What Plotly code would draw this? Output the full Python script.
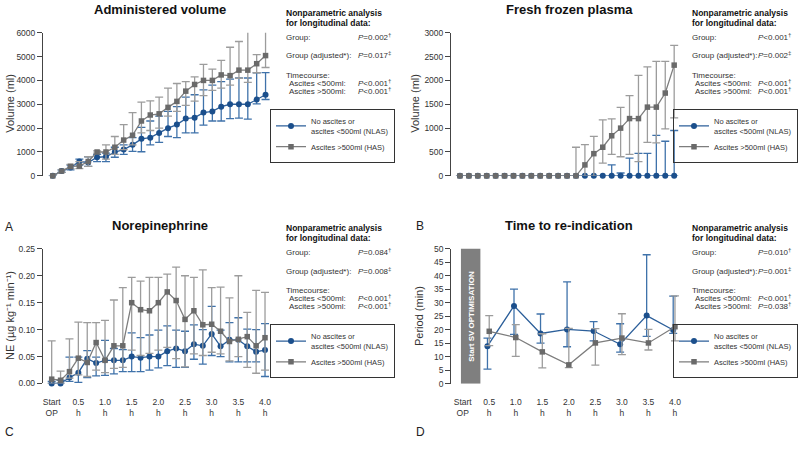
import plotly.graph_objects as go

W, H = 800, 455
FONT = "Liberation Sans, Arial, sans-serif"

# ---------------- data ----------------
TIME_MIN = [0, 10, 20, 30, 40, 50, 60, 70, 80, 90, 100, 110, 120,
            130, 140, 150, 160, 170, 180, 190, 200, 210, 220, 230, 240]
TIME_D = [30, 60, 90, 120, 150, 180, 210, 240]
TICK_VALS = [0, 30, 60, 90, 120, 150, 180, 210, 240]
TICK_TEXT = ["Start<br>OP", "0.5<br>h", "1.0<br>h", "1.5<br>h", "2.0<br>h",
             "2.5<br>h", "3.0<br>h", "3.5<br>h", "4.0<br>h"]

# A: administered volume (ml)
VOL_NLAS = [0, 200, 350, 600, 560, 780, 800, 1000, 1100, 1300, 1550, 1600, 1800,
            2000, 2150, 2400, 2440, 2650, 2700, 2900, 3000, 3000, 3000, 3200, 3400]
VOL_NLAS_HI = [0, 250, 450, 700, 800, 900, 950, 1200, 1300, 1600, 2030, 2300, 2500,
               2700, 2900, 3300, 3400, 3600, 3800, 3950, 4050, 4100, 4100, 4320, 4330]
VOL_NLAS_LO = [0, 150, 250, 450, 400, 600, 600, 780, 900, 1030, 1010, 1300, 1400,
               1650, 1600, 1800, 1800, 2130, 2300, 2300, 2400, 2420, 2380, 3020, 3200]
VOL_HAS = [0, 200, 400, 410, 600, 1000, 1000, 1200, 1500, 1700, 2300, 2550, 2600,
           2870, 3120, 3550, 3830, 4000, 4000, 4230, 4200, 4430, 4430, 4700, 5040]
VOL_HAS_HI = [0, 250, 480, 600, 800, 1050, 1300, 1650, 2150, 2650, 3090, 3140, 3300,
              3680, 3870, 3950, 4150, 4670, 4470, 4840, 5390, 5630, 6500, 5080, 6570]
VOL_HAS_LO = [0, 150, 300, 300, 400, 950, 700, 900, 1100, 1300, 1800, 1900, 2000,
              2500, 2700, 2950, 3130, 3360, 3580, 3680, 3800, 4090, 3920, 4320, 4540]

# B: fresh frozen plasma (ml)
FFP_NLAS = [0, 0, 0, 0, 0, 0, 0, 0, 0, 0, 0, 0, 0,
            0, 0, 0, 0, 0, 0, 0, 0, 0, 0, 0, 0]
FFP_NLAS_HI = [0, 0, 0, 0, 0, 0, 0, 0, 0, 0, 0, 0, 0,
               0, 0, 0, 0, 232, 60, 370, 470, 470, 850, 725, 950]
FFP_NLAS_LO = [0, 0, 0, 0, 0, 0, 0, 0, 0, 0, 0, 0, 0,
               0, 0, 0, 0, 0, 0, 0, 0, 0, 0, 0, 0]
FFP_HAS = [0, 0, 0, 0, 0, 0, 0, 0, 0, 0, 0, 0, 0,
           0, 230, 465, 600, 840, 1000, 1200, 1200, 1440, 1440, 1735, 2320]
FFP_HAS_HI = [0, 0, 0, 0, 0, 0, 0, 0, 0, 0, 0, 0, 0,
              600, 656, 827, 1175, 1196, 1435, 1680, 2105, 2283, 2400, 2400, 2734]
FFP_HAS_LO = [0, 0, 0, 0, 0, 0, 0, 0, 0, 0, 0, 0, 0,
              0, 0, 0, 267, 450, 400, 450, 300, 700, 690, 985, 1217]

# C: norepinephrine (ug/kg/min)
NE_NLAS = [0.000, 0.000, 0.011, 0.020, 0.046, 0.038, 0.043, 0.043, 0.043, 0.050, 0.048, 0.050, 0.050,
           0.060, 0.065, 0.060, 0.073, 0.070, 0.092, 0.069, 0.081, 0.081, 0.069, 0.059, 0.062]
NE_NLAS_HI = [0.004, 0.006, 0.049, 0.049, 0.061, 0.049, 0.080, 0.065, 0.063, 0.094, 0.085, 0.090, 0.099,
              0.107, 0.099, 0.097, 0.109, 0.100, 0.143, 0.099, 0.113, 0.122, 0.101, 0.100, 0.111]
NE_NLAS_LO = [0.000, 0.000, 0.004, 0.002, 0.011, 0.014, 0.015, 0.018, 0.022, 0.022, 0.022, 0.025, 0.029,
              0.033, 0.030, 0.030, 0.045, 0.036, 0.052, 0.050, 0.040, 0.040, 0.040, 0.040, 0.013]
NE_HAS = [0.008, 0.006, 0.022, 0.047, 0.039, 0.076, 0.043, 0.070, 0.070, 0.150, 0.137, 0.135, 0.150,
          0.170, 0.154, 0.119, 0.135, 0.109, 0.110, 0.097, 0.078, 0.082, 0.087, 0.070, 0.085]
NE_HAS_HI = [0.079, 0.023, 0.083, 0.114, 0.113, 0.113, 0.117, 0.155, 0.178, 0.197, 0.190, 0.197, 0.197,
             0.203, 0.216, 0.200, 0.197, 0.211, 0.178, 0.179, 0.159, 0.200, 0.132, 0.173, 0.169]
NE_HAS_LO = [0.000, 0.000, 0.010, 0.016, 0.013, 0.025, 0.020, 0.028, 0.030, 0.062, 0.052, 0.056, 0.062,
             0.067, 0.046, 0.031, 0.055, 0.052, 0.058, 0.055, 0.042, 0.050, 0.030, 0.019, 0.025]

# D: time to re-indication (min)
RI_NLAS = [13.9, 28.8, 18.6, 20.1, 19.5, 14.6, 25.2, 19.9]
RI_NLAS_HI = [16.9, 35.0, 25.8, 37.7, 23.0, 22.2, 47.7, 32.4]
RI_NLAS_LO = [5.4, 18.3, 15.0, 13.7, 15.9, 11.7, 17.5, 18.6]
RI_HAS = [19.4, 17.1, 11.8, 7.0, 15.1, 16.9, 15.1, 21.1]
RI_HAS_HI = [25.2, 21.9, 18.5, 20.5, 20.4, 25.9, 20.1, 32.5]
RI_HAS_LO = [14.1, 10.1, 5.9, 6.0, 6.9, 10.8, 12.5, 15.9]

NAME_NLAS = "No ascites or<br>ascites &lt;500ml (NLAS)"
NAME_HAS = "Ascites &gt;500ml (HAS)"

# P values (text, footnote mark) per panel: group, group adjusted, <500ml, >500ml
STATS = {
    "A": [("=0.002", "†"), ("=0.017", "‡"), ("&lt;0.001", "†"), ("&lt;0.001", "†")],
    "B": [("&lt;0.001", "†"), ("=0.002", "‡"), ("&lt;0.001", "†"), ("&lt;0.001", "†")],
    "C": [("=0.084", "†"), ("=0.008", "‡"), ("&lt;0.001", "†"), ("&lt;0.001", "†")],
    "D": [("=0.010", "†"), ("=0.001", "‡"), ("&lt;0.001", "†"), ("=0.038", "†")],
}

# ---------------- styling ----------------
BLUE = "#1b4f8c"
BLUE_LINE = "#2c5f9a"
BLUE_ERR = "#3f72aa"
GREY = "#6a6a6a"
GREY_LINE = "#7d7d7d"
GREY_ERR = "#9c9c9c"
TXT = "#333333"
DODGE_NLAS_D = -2
BODY_SIZE = 8
P_TEXT_WIDTH = 3753 / 1000 * BODY_SIZE  # width of "P=0.000" in Arial metrics


def px(x):
    return x / W


def py(y):
    return 1 - y / H


def err(vals, hi, lo):
    up, dn = [], []
    for v, h, l in zip(vals, hi, lo):
        if h == v and l == v:
            up.append(None)
            dn.append(None)
        else:
            up.append(h - v)
            dn.append(v - l)
    return up, dn


fig = go.Figure()


def add_series(x, y, hi, lo, ax, legend, nlas):
    up, dn = err(y, hi, lo)
    fig.add_trace(go.Scatter(
        x=x, y=y, mode="lines+markers",
        name=NAME_NLAS if nlas else NAME_HAS,
        xaxis="x" + ax, yaxis="y" + ax, legend=legend,
        cliponaxis=False,
        line=dict(color=BLUE_LINE if nlas else GREY_LINE, width=1.3),
        marker=dict(symbol="circle" if nlas else "square",
                    size=6 if nlas else 5.5,
                    color=BLUE if nlas else GREY),
        error_y=dict(type="data", symmetric=False, array=up, arrayminus=dn,
                     color=BLUE_ERR if nlas else GREY_ERR, thickness=1.3, width=4),
        hoverinfo="skip",
    ))


add_series(TIME_MIN, VOL_NLAS, VOL_NLAS_HI, VOL_NLAS_LO, "", "legend", True)
add_series(TIME_MIN, VOL_HAS, VOL_HAS_HI, VOL_HAS_LO, "", "legend", False)
add_series(TIME_MIN, FFP_NLAS, FFP_NLAS_HI, FFP_NLAS_LO, "2", "legend2", True)
add_series(TIME_MIN, FFP_HAS, FFP_HAS_HI, FFP_HAS_LO, "2", "legend2", False)
add_series(TIME_MIN, NE_NLAS, NE_NLAS_HI, NE_NLAS_LO, "3", "legend3", True)
add_series(TIME_MIN, NE_HAS, NE_HAS_HI, NE_HAS_LO, "3", "legend3", False)
add_series([t + DODGE_NLAS_D for t in TIME_D], RI_NLAS, RI_NLAS_HI, RI_NLAS_LO, "4", "legend4", True)
add_series(TIME_D, RI_HAS, RI_HAS_HI, RI_HAS_LO, "4", "legend4", False)


def yax(domain_px, rng, dtick, fmt=None):
    d = dict(domain=[py(domain_px[1]), py(domain_px[0])], range=rng, dtick=dtick,
             showline=True, linecolor="#444", linewidth=1,
             ticks="outside", ticklen=5, tickcolor="#444", tickwidth=1,
             showgrid=False, zeroline=False,
             tickfont=dict(size=8.5, color=TXT, family=FONT), fixedrange=True)
    if fmt:
        d["tickformat"] = fmt
    return d


def xax(domain_px, rng, labels, anchor):
    d = dict(domain=[px(domain_px[0]), px(domain_px[1])], range=rng,
             showline=False, showgrid=False, zeroline=False, anchor=anchor,
             fixedrange=True)
    if labels:
        d.update(tickmode="array", tickvals=TICK_VALS, ticktext=TICK_TEXT,
                 ticks="outside", ticklen=10, tickcolor="rgba(0,0,0,0)",
                 tickfont=dict(size=8.5, color=TXT, family=FONT))
    else:
        d.update(showticklabels=False, ticks="")
    return d


def leg(xp, yp):
    return dict(x=px(xp), y=py(yp), xanchor="left", yanchor="top",
                bgcolor="rgba(0,0,0,0)", bordercolor="#333", borderwidth=1,
                font=dict(size=7.5, color=TXT, family=FONT),
                tracegroupgap=0, itemwidth=30, traceorder="normal")


annotations = []


def text(x, y, s, size=BODY_SIZE, color=TXT, anchor="left", angle=0, yanchor="middle"):
    annotations.append(dict(x=px(x), y=py(y), xref="paper", yref="paper", text=s,
                            showarrow=False, xanchor=anchor, yanchor=yanchor,
                            textangle=angle,
                            font=dict(size=size, color=color, family=FONT)))


def pval(xp, y, item):
    value, mark = item
    text(xp, y, "<i>P</i>" + value)
    text(xp + P_TEXT_WIDTH, y - 2.5, mark, size=6)


def stats_block(x0, xp, y0, vals):
    text(x0, y0 + 8, "<b>Nonparametric analysis</b>", size=8.5, color="#111")
    text(x0, y0 + 18, "<b>for longitudinal data:</b>", size=8.5, color="#111")
    text(x0, y0 + 33, "Group:")
    pval(xp, y0 + 33, vals[0])
    text(x0, y0 + 52, "Group (adjusted*):")
    pval(xp, y0 + 52, vals[1])
    text(x0, y0 + 72, "Timecourse:")
    text(x0 + 3, y0 + 80, "Ascites &lt;500ml:")
    pval(xp, y0 + 80, vals[2])
    text(x0 + 3, y0 + 88, "Ascites &gt;500ml:")
    pval(xp, y0 + 88, vals[3])


stats_block(284, 356, 0, STATS["A"])
stats_block(690, 756, 0, STATS["B"])
stats_block(284, 356, 220, STATS["C"])
stats_block(690, 756, 220, STATS["D"])

# titles
text(160, 5, "<b>Administered volume</b>", size=13, color="#111", anchor="center")
text(569, 5, "<b>Fresh frozen plasma</b>", size=13, color="#111", anchor="center")
text(160, 225, "<b>Norepinephrine</b>", size=13, color="#111", anchor="center")
text(569, 225, "<b>Time to re-indication</b>", size=13, color="#111", anchor="center")

# axis titles
text(10, 101, "Volume (ml)", size=11, anchor="center", angle=-90)
text(415, 101, "Volume (ml)", size=11, anchor="center", angle=-90)
text(10, 318, "NE (µg kg⁻¹ min⁻¹)", size=11, anchor="center", angle=-90)
text(419, 318, "Period (min)", size=11, anchor="center", angle=-90)

# panel letters
text(3, 227, "A", size=12, color="#222")
text(414, 226, "B", size=12, color="#222")
text(3, 437, "C", size=12, color="#222")
text(414, 437, "D", size=12, color="#222")

# start SV optimisation box (panel D)
SV_BOX_X = [-2, 20]
SV_BOX_Y = [0, 50]
annotations.append(dict(x=sum(SV_BOX_X) / 2, y=25, xref="x4", yref="y4",
                        text="<b>Start SV OPTIMISATION</b>", showarrow=False,
                        textangle=-90, font=dict(size=8, color="white", family=FONT)))

fig.update_layout(
    width=W, height=H, margin=dict(l=0, r=0, t=0, b=0),
    paper_bgcolor="white", plot_bgcolor="white",
    font=dict(family=FONT, color=TXT),
    showlegend=True,
    xaxis=xax((43, 275.3), [-11, 251], False, "y"),
    yaxis=yax((28.3, 174.7), [0, 6000], 1000),
    xaxis2=xax((451, 684), [-10, 251], False, "y2"),
    yaxis2=dict(yax((28.3, 174.7), [0, 3000], 500), anchor="x2"),
    xaxis3=xax((42.8, 274.8), [-10, 251], True, "y3"),
    yaxis3=dict(yax((249.3, 387), [0, 0.25], 0.05, ".2f"), anchor="x3"),
    xaxis4=xax((451.2, 684.7), [-13, 251], True, "y4"),
    yaxis4=dict(yax((249, 387.3), [0, 50], 5), anchor="x4"),
    legend=leg(270, 106),
    legend2=leg(673, 106),
    legend3=leg(270, 326),
    legend4=leg(673, 326),
    annotations=annotations,
    shapes=[dict(type="rect", xref="x4", yref="y4", x0=SV_BOX_X[0], x1=SV_BOX_X[1],
                 y0=SV_BOX_Y[0], y1=SV_BOX_Y[1], fillcolor="#7f7f7f",
                 line=dict(width=0), layer="below")],
)

fig.write_html("out.html", config={"displayModeBar": False},
               post_script="document.body.style.margin='0';document.body.style.padding='0';")
